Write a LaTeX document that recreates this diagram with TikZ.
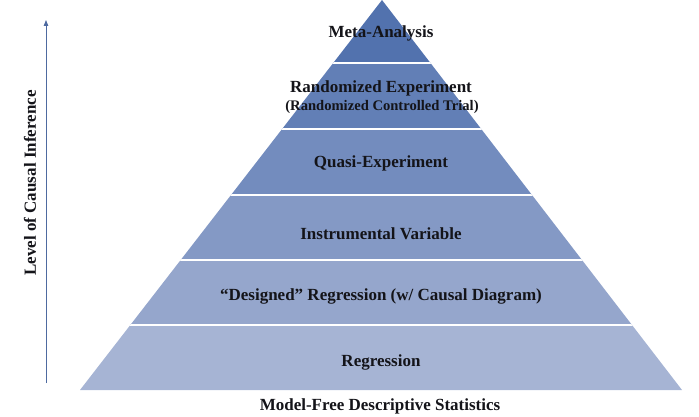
\documentclass[tikz,border=0pt]{standalone}
\usepackage{fontspec}
\setmainfont{Liberation Serif}
\usetikzlibrary{arrows.meta}
\definecolor{bandA}{RGB}{82,114,174}
\definecolor{bandB}{RGB}{98,127,182}
\definecolor{bandC}{RGB}{115,140,190}
\definecolor{bandD}{RGB}{132,153,197}
\definecolor{bandE}{RGB}{149,166,204}
\definecolor{bandF}{RGB}{166,180,212}
\definecolor{arrowcol}{RGB}{78,106,160}
\definecolor{txt}{RGB}{20,20,25}
\tikzset{
  lbl/.style={anchor=base, inner sep=0pt, text=txt, font=\fontsize{17}{20}\selectfont\bfseries},
  sublbl/.style={anchor=base, inner sep=0pt, text=txt, font=\fontsize{14.6}{17}\selectfont\bfseries},
  gapline/.style={white, line width=2pt},
  axis/.style={arrowcol, line width=0.8pt, -{Triangle[length=6pt,width=4.5pt]}}
}
\begin{document}
\begin{tikzpicture}[x=1pt,y=-1pt]
\useasboundingbox (0,0) rectangle (699,417);
% pyramid
\coordinate (apex) at (382,0);
\coordinate (bl) at (80,390);
\coordinate (br) at (682,390);
\begin{scope}
\clip (apex) -- (br) -- (bl) -- cycle;
\fill[bandA] (0,-2) rectangle (699,63);
\fill[bandB] (0,63) rectangle (699,129);
\fill[bandC] (0,129) rectangle (699,195);
\fill[bandD] (0,195) rectangle (699,260);
\fill[bandE] (0,260) rectangle (699,325);
\fill[bandF] (0,325) rectangle (699,392);
\draw[gapline] (0,63) -- (699,63);
\draw[gapline] (0,129) -- (699,129);
\draw[gapline] (0,195) -- (699,195);
\draw[gapline] (0,260) -- (699,260);
\draw[gapline] (0,325) -- (699,325);
\end{scope}
% labels
\node[lbl] (meta) at (381,38) {Meta-Analysis};
\node[lbl] (rand) at (381,93) {Randomized Experiment};
\node[sublbl] (rct) at (382,110.5) {(Randomized Controlled Trial)};
\node[lbl] (quasi) at (381,167.5) {Quasi-Experiment};
\node[lbl] (iv) at (381,239) {Instrumental Variable};
\node[lbl] (dreg) at (381,300.5) {“Designed” Regression (w/ Causal Diagram)};
\node[lbl] (reg) at (381,366) {Regression};
\node[lbl] (mfds) at (380,410.5) {Model-Free Descriptive Statistics};
% axis
\coordinate (axbot) at (46,383);
\coordinate (axtop) at (46,20);
\draw[axis] (axbot) -- (axtop);
\node[lbl, anchor=center, rotate=90] (level) at (30,183) {Level of Causal Inference};
\end{tikzpicture}
\end{document}
